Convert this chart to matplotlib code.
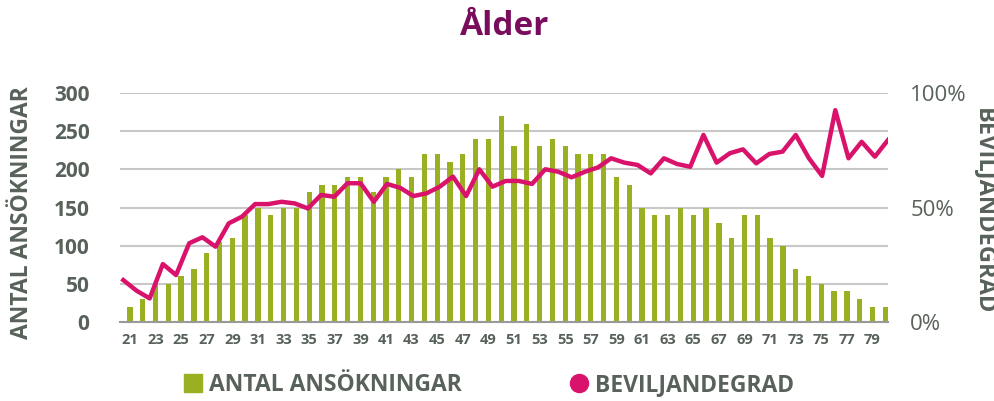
import matplotlib.pyplot as plt
from matplotlib.lines import Line2D
import numpy as np

# antal ansökningar per ålder 21-80
ages = list(range(21, 81))
antal = [20, 30, 50, 50, 60, 70, 90, 105, 110, 140,
         150, 140, 150, 150, 170, 180, 180, 190, 190, 170,
         190, 200, 190, 220, 220, 210, 220, 240, 240, 270,
         230, 260, 230, 240, 230, 220, 220, 220, 190, 180,
         150, 140, 140, 150, 140, 150, 130, 110, 140, 140,
         110, 100, 70, 60, 50, 40, 40, 30, 20, 20]

# beviljandegrad (andel), 59 punkter
bevilj = [0.183, 0.137, 0.103, 0.253, 0.205, 0.344, 0.370, 0.329, 0.431, 0.460,
          0.515, 0.515, 0.525, 0.518, 0.496, 0.555, 0.547, 0.606, 0.606, 0.525,
          0.603, 0.586, 0.550, 0.562, 0.591, 0.635, 0.550, 0.667, 0.591, 0.616,
          0.616, 0.603, 0.667, 0.656, 0.632, 0.656, 0.675, 0.715, 0.696, 0.686,
          0.649, 0.715, 0.690, 0.678, 0.817, 0.696, 0.737, 0.754, 0.693, 0.734,
          0.744, 0.817, 0.715, 0.638, 0.925, 0.715, 0.787, 0.722, 0.795]

tick_ages = ages[::2]

green = '#9BAF22'
pink = '#D9136B'
grey = '#58625A'
plt.rcParams['font.family'] = ['Open Sans', 'DejaVu Sans']

fig = plt.figure(figsize=(9.95, 4.01), dpi=100)
ax = fig.add_axes([0.1206, 0.197, 0.7719, 0.571])

x = np.arange(len(ages))
ax.bar(x, antal, width=0.42, color=green, zorder=2)
ax.set_xlim(-0.78, 59.22)
ax.set_ylim(0, 300)
ax.set_yticks(range(0, 301, 50))
ax.set_xticks(x[::2])
ax.set_xticklabels([str(a) for a in tick_ages])
ax.grid(axis='y', color='#c8c8c8', linewidth=1.5, zorder=0)
for s in ['top', 'right', 'left']:
    ax.spines[s].set_visible(False)
ax.spines['bottom'].set_color('#9a9a9a')
ax.spines['bottom'].set_linewidth(1.5)
ax.tick_params(axis='both', length=0)
ax.tick_params(axis='y', labelsize=15, labelcolor=grey, pad=22)
ax.tick_params(axis='x', labelsize=10.5, labelcolor=grey, pad=8)
for t in ax.get_yticklabels():
    t.set_fontweight('bold')
for t in ax.get_xticklabels():
    t.set_fontweight('bold')
ax.set_ylabel('ANTAL ANSÖKNINGAR', fontsize=16.5, fontweight='bold', color=grey, va='center')
ax.yaxis.set_label_coords(-0.128, 0.476)

ax2 = fig.add_axes(ax.get_position(), frameon=False)
ax2.plot(np.arange(len(bevilj)), bevilj, color=pink, linewidth=3.2, zorder=3)
ax2.set_xlim(-0.25, 58)
ax2.set_ylim(0, 1)
ax2.set_xticks([])
ax2.yaxis.tick_right()
ax2.yaxis.set_label_position('right')
ax2.set_yticks([0, 0.5, 1])
ax2.set_yticklabels(['0%', '50%', '100%'])
ax2.tick_params(axis='y', length=0, labelsize=16, labelcolor=grey, pad=16)
ax2.set_ylabel('BEVILJANDEGRAD', fontsize=17, fontweight='bold', color=grey,
               rotation=-90, va='center')
ax2.yaxis.set_label_coords(1.125, 0.485)

fig.suptitle('Ålder', x=0.507, y=0.975, fontsize=24, fontweight='bold', color='#7A0C5E')

handles = [Line2D([], [], marker='s', linestyle='none', color=green, markersize=13),
           Line2D([], [], marker='o', linestyle='none', color=pink, markersize=13)]
leg = fig.legend(handles, ['ANTAL ANSÖKNINGAR', 'BEVILJANDEGRAD'], loc='center',
                 bbox_to_anchor=(0.49, 0.04), ncol=2, frameon=False, handletextpad=0.2,
                 columnspacing=4.6, handlelength=1.0,
                 prop={'size': 16.5, 'weight': 'bold'})
for t in leg.get_texts():
    t.set_color(grey)

fig.savefig('out.png', dpi=100)
